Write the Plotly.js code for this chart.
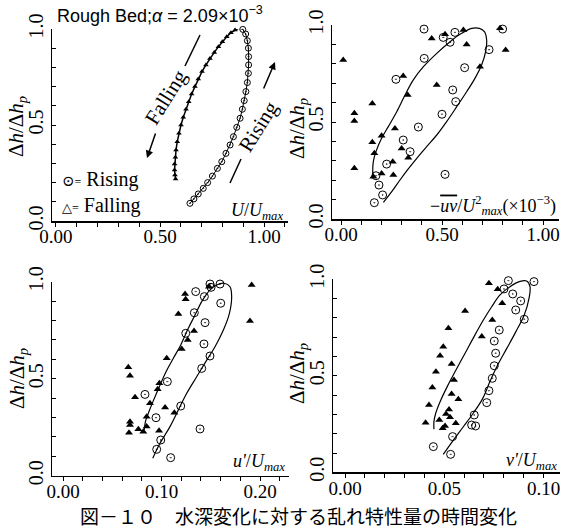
<!DOCTYPE html>
<html><head><meta charset="utf-8">
<script src="https://cdn.plot.ly/plotly-3.0.1.min.js"></script>
<style>body{margin:0;background:#fff}#chart{width:561px;height:529px}</style>
</head><body><div id="chart"></div>
<script>
// ---------- Panel 1: U/Umax ----------
const p1RiseX = [0.644,0.663,0.684,0.708,0.729,0.752,0.776,0.797,0.817,0.837,0.853,0.869,0.885,0.896,0.905,0.913,0.920,0.925,0.926,0.926,0.925,0.920,0.912,0.898,0.881];
const p1RiseY = [0.092,0.115,0.141,0.170,0.200,0.234,0.274,0.309,0.352,0.396,0.439,0.488,0.535,0.582,0.627,0.674,0.721,0.769,0.813,0.856,0.900,0.939,0.974,0.998,1.003];
const p1FallX = [0.877,0.861,0.841,0.821,0.800,0.781,0.761,0.740,0.721,0.702,0.684,0.668,0.652,0.638,0.625,0.612,0.601,0.591,0.583,0.577,0.574,0.570,0.570,0.572,0.575];
const p1FallY = [1.003,0.995,0.981,0.960,0.934,0.908,0.878,0.847,0.813,0.778,0.740,0.700,0.661,0.621,0.582,0.540,0.500,0.457,0.413,0.370,0.332,0.297,0.266,0.240,0.219];

// ---------- Panel 2: -uv/Umax^2 ----------
const p2RiseX = [0.411,0.506,0.564,0.540,0.800,0.733,0.412,0.612,0.272,0.553,0.568,0.500,0.383,0.308,0.342,0.226,0.515,0.173,0.188,0.206,0.165];
const p2RiseY = [0.979,0.936,0.962,0.911,0.979,0.873,0.828,0.780,0.720,0.665,0.605,0.540,0.474,0.407,0.347,0.283,0.230,0.223,0.175,0.124,0.084];
const p2FallX = [0.011,0.066,0.066,0.066,0.155,0.155,0.165,0.160,0.201,0.201,0.256,0.259,0.267,0.300,0.333,0.308,0.330,0.449,0.515,0.474,0.606,0.622,0.688,0.787,0.815];
const p2FallY = [0.820,0.545,0.505,0.261,0.596,0.395,0.339,0.218,0.429,0.235,0.295,0.227,0.467,0.364,0.316,0.737,0.639,0.931,0.952,0.691,0.974,0.900,0.785,0.983,0.871];
const p2FitX = [0.210,0.251,0.292,0.333,0.375,0.424,0.474,0.523,0.573,0.622,0.663,0.696,0.716,0.721,0.710,0.685,0.647,0.597,0.540,0.474,0.408,0.358,0.317,0.276,0.234,0.201,0.173,0.160,0.157,0.160];
const p2FitY = [0.086,0.141,0.201,0.258,0.313,0.373,0.433,0.502,0.579,0.656,0.725,0.794,0.863,0.923,0.966,0.983,0.983,0.957,0.914,0.854,0.785,0.717,0.639,0.553,0.476,0.416,0.347,0.296,0.244,0.213];

// ---------- Panel 3: u'/Umax ----------
const p3RiseX = [0.1492,0.1594,0.1503,0.1347,0.1435,0.1601,0.1333,0.1442,0.1246,0.1431,0.1492,0.1408,0.1059,0.1195,0.0832,0.0944,0.1391,0.0992,0.0951,0.1093];
const p3RiseY = [0.988,0.988,0.971,0.949,0.923,0.889,0.840,0.789,0.734,0.679,0.617,0.553,0.485,0.359,0.419,0.299,0.241,0.184,0.136,0.093];
const p3FallX = [0.1915,0.1898,0.1239,0.1245,0.1171,0.1482,0.1330,0.1266,0.1205,0.1053,0.0978,0.0961,0.0883,0.0849,0.0663,0.0680,0.0731,0.1036,0.1130,0.0680,0.0680,0.0670,0.0765,0.0815,0.0849,0.0975];
const p3FallY = [0.983,0.797,0.937,0.909,0.834,0.974,0.746,0.699,0.653,0.605,0.476,0.445,0.373,0.304,0.559,0.515,0.404,0.352,0.325,0.278,0.261,0.222,0.239,0.227,0.253,0.232];
const p3FitX = [0.0911,0.0985,0.1086,0.1171,0.1256,0.1357,0.1459,0.1543,0.1628,0.1689,0.1712,0.1695,0.1635,0.1560,0.1486,0.1408,0.1340,0.1272,0.1195,0.1120,0.1046,0.0978,0.0917,0.0866,0.0836,0.0825];
const p3FitY = [0.090,0.167,0.253,0.339,0.425,0.510,0.596,0.665,0.751,0.837,0.923,0.974,0.992,0.983,0.954,0.897,0.828,0.760,0.674,0.605,0.536,0.459,0.387,0.322,0.278,0.236];

// ---------- Panel 4: v'/Umax ----------
const p4RiseX = [0.0823,0.0952,0.0801,0.0845,0.0885,0.0860,0.0903,0.0777,0.0752,0.0759,0.0752,0.0742,0.0725,0.0714,0.0651,0.0658,0.0638,0.0542,0.0445,0.0532];
const p4RiseY = [0.993,0.988,0.950,0.924,0.888,0.841,0.793,0.737,0.680,0.617,0.552,0.487,0.423,0.361,0.297,0.240,0.245,0.185,0.133,0.093];
const p4FallX = [0.0725,0.0769,0.0792,0.0605,0.0742,0.0689,0.0521,0.0495,0.0479,0.0537,0.0458,0.0549,0.0440,0.0537,0.0571,0.0423,0.0524,0.0509,0.0529,0.0406,0.0475,0.0558,0.0504,0.0492];
const p4FallY = [0.979,0.948,0.876,0.836,0.789,0.703,0.746,0.651,0.604,0.561,0.521,0.478,0.440,0.406,0.378,0.349,0.326,0.302,0.285,0.257,0.271,0.254,0.240,0.228];
const p4FitX = [0.0495,0.0546,0.0596,0.0646,0.0694,0.0730,0.0769,0.0815,0.0861,0.0903,0.0927,0.0932,0.0915,0.0878,0.0831,0.0781,0.0739,0.0697,0.0650,0.0605,0.0559,0.0515,0.0479,0.0457,0.0448,0.0448];
const p4FitY = [0.093,0.167,0.236,0.306,0.383,0.470,0.556,0.642,0.729,0.815,0.901,0.962,0.991,0.988,0.962,0.919,0.858,0.789,0.703,0.617,0.530,0.444,0.366,0.306,0.262,0.223];

// ---------- Ticks ----------
const yTickVals = [0,0.1,0.2,0.3,0.4,0.5,0.6,0.7,0.8,0.9,1.0];
const yTickText = ['0.0','','','','','0.5','','','','','1.0'];
const x1TickVals = [0,0.1,0.2,0.3,0.4,0.5,0.6,0.7,0.8,0.9,1.0,1.1];
const x1TickText = ['0.00','','','','','0.50','','','','','1.00',''];
const x3TickVals = [0,0.02,0.04,0.06,0.08,0.10,0.12,0.14,0.16,0.18,0.20,0.22];
const x3TickText = ['0.00','','','','','0.10','','','','','0.20',''];
const x4TickVals = [0,0.01,0.02,0.03,0.04,0.05,0.06,0.07,0.08,0.09,0.10];
const x4TickText = ['0.00','','','','','0.05','','','','','0.10'];

const W = 561, H = 529;
const px = v => v / W;
const py = v => 1 - v / H;
const serif = 'Liberation Serif, DejaVu Serif, serif';
const sans = 'Liberation Sans, Arial, sans-serif';

function xAxis(l, r, range, tv, tt, anchor) {
  return {domain:[px(l), px(r)], range:range, anchor:anchor, tickmode:'array', tickvals:tv, ticktext:tt,
    ticks:'outside', ticklen:4, tickwidth:1, tickcolor:'#000', showline:true, linecolor:'#000', linewidth:1.5,
    ticklabelstandoff:-6,
    showgrid:false, zeroline:false, tickfont:{family:serif, size:19, color:'#000'}, fixedrange:true};
}
function yAxis(top, bottom, anchor) {
  return {domain:[py(bottom), py(top)], range:[0,1.0], anchor:anchor, tickmode:'array', tickvals:yTickVals, ticktext:yTickText,
    ticks:'inside', ticklen:4, tickwidth:1, tickcolor:'#000', tickangle:-90, showline:true, linecolor:'#000', linewidth:1.5,
    showgrid:false, zeroline:false, tickfont:{family:serif, size:20, color:'#000'}, fixedrange:true};
}

const circ = s => ({symbol:'circle-open-dot', size:s, color:'#000', line:{color:'#000', width:1}});
const tri = s => ({symbol:'triangle-up', size:s, color:'#000', line:{width:0}});

const traces = [
  {x:p1RiseX, y:p1RiseY, xaxis:'x', yaxis:'y', mode:'lines+markers', line:{color:'#000', width:1}, marker:circ(6), cliponaxis:false},
  {x:p1FallX, y:p1FallY, xaxis:'x', yaxis:'y', mode:'lines+markers', line:{color:'#000', width:1.5}, marker:tri(5), cliponaxis:false},

  {x:p2FitX, y:p2FitY, xaxis:'x2', yaxis:'y2', mode:'lines', line:{color:'#000', width:1.2, shape:'spline'}, cliponaxis:false},
  {x:p2RiseX, y:p2RiseY, xaxis:'x2', yaxis:'y2', mode:'markers', marker:circ(8), cliponaxis:false},
  {x:p2FallX, y:p2FallY, xaxis:'x2', yaxis:'y2', mode:'markers', marker:tri(7), cliponaxis:false},

  {x:p3FitX, y:p3FitY, xaxis:'x3', yaxis:'y3', mode:'lines', line:{color:'#000', width:1.2, shape:'spline'}, cliponaxis:false},
  {x:p3RiseX, y:p3RiseY, xaxis:'x3', yaxis:'y3', mode:'markers', marker:circ(8), cliponaxis:false},
  {x:p3FallX, y:p3FallY, xaxis:'x3', yaxis:'y3', mode:'markers', marker:tri(7), cliponaxis:false},

  {x:p4FitX, y:p4FitY, xaxis:'x4', yaxis:'y4', mode:'lines', line:{color:'#000', width:1.2, shape:'spline'}, cliponaxis:false},
  {x:p4RiseX, y:p4RiseY, xaxis:'x4', yaxis:'y4', mode:'markers', marker:circ(8), cliponaxis:false},
  {x:p4FallX, y:p4FallY, xaxis:'x4', yaxis:'y4', mode:'markers', marker:tri(7), cliponaxis:false}
];

const yTitle = '\u0394<i>h</i>/\u0394<i>h</i><sub><i>p</i></sub>';
function ann(x, y, text, opts) {
  return Object.assign({xref:'paper', yref:'paper', x:px(x), y:py(y), text:text, showarrow:false,
    xanchor:'center', yanchor:'middle',
    font:{family:serif, size:20, color:'#000'}}, opts || {});
}

const annotations = [
  ann(55, 14, 'Rough Bed;<i>\u03b1</i> = 2.09\u00d710<sup>\u22123</sup>', {xanchor:'left', font:{family:sans, size:18, color:'#000'}}),
  ann(17, 127, yTitle, {textangle:-90, font:{family:serif, size:21, color:'#000'}}),
  ann(298, 129, yTitle, {textangle:-90, font:{family:serif, size:21, color:'#000'}}),
  ann(18, 379, yTitle, {textangle:-90, font:{family:serif, size:21, color:'#000'}}),
  ann(298, 374, yTitle, {textangle:-90, font:{family:serif, size:21, color:'#000'}}),
  ann(285, 211, '<i>U</i>/<i>U</i><sub><i>max</i></sub>', {xanchor:'right', font:{family:serif, size:18, color:'#000'}}),
  ann(558, 206, '\u2212<span style="text-decoration:overline"><i>uv</i></span>/<i>U</i><sup>2</sup><sub><i>max</i></sub>(\u00d710<sup>\u22123</sup>)', {xanchor:'right', font:{family:serif, size:18, color:'#000'}}),
  ann(287, 462, "<i>u'</i>/<i>U</i><sub><i>max</i></sub>", {xanchor:'right', font:{family:serif, size:18, color:'#000'}}),
  ann(559, 461, "<i>v'</i>/<i>U</i><sub><i>max</i></sub>", {xanchor:'right', font:{family:serif, size:18, color:'#000'}}),
  ann(60, 180, '<span style="font-size:15px">\u2299</span><span style="font-size:12px">=</span> Rising', {xanchor:'left'}),
  ann(60, 206, '<span style="font-size:13px">\u25b3</span><span style="font-size:12px">=</span> Falling', {xanchor:'left'}),
  ann(166, 97, 'Falling', {textangle:-58, font:{family:serif, size:21, color:'#000'}}),
  ann(258, 127, 'Rising', {textangle:-58, font:{family:serif, size:21, color:'#000'}}),
  // arrows
  {xref:'paper', yref:'paper', x:px(147), y:py(158), ax:9, ay:-26, text:'', showarrow:true, arrowhead:2, arrowsize:1, arrowwidth:1.5, arrowcolor:'#000'},
  {xref:'paper', yref:'paper', x:px(275), y:py(62), ax:-12, ay:28, text:'', showarrow:true, arrowhead:2, arrowsize:1, arrowwidth:1.5, arrowcolor:'#000'},
  ann(298, 515.5, '図－１０　水深変化に対する乱れ特性量の時間変化', {font:{family:'Noto Sans CJK JP, sans-serif', size:19, color:'#000'}})
];

const shapes = [
  {type:'line', xref:'paper', yref:'paper', x0:px(200), y0:py(35), x1:px(185), y1:py(66), line:{color:'#000', width:1.5}},
  {type:'line', xref:'paper', yref:'paper', x0:px(230), y0:py(183), x1:px(241), y1:py(159), line:{color:'#000', width:1.5}}
];

const layout = {
  width:W, height:H, margin:{l:0, r:0, t:0, b:0}, paper_bgcolor:'#fff', plot_bgcolor:'rgba(0,0,0,0)',
  showlegend:false,
  xaxis: xAxis(52, 288, [-0.0192, 1.1154], x1TickVals, x1TickText, 'y'),
  yaxis: yAxis(29, 221, 'x'),
  xaxis2: xAxis(332, 559, [-0.0446, 1.0792], x1TickVals, x1TickText, 'y2'),
  yaxis2: yAxis(25, 219, 'x2'),
  xaxis3: xAxis(52, 289, [-0.01117, 0.2294], x3TickVals, x3TickText, 'y3'),
  yaxis3: yAxis(281.7, 475.7, 'x3'),
  xaxis4: xAxis(333, 560, [-0.00605, 0.10831], x4TickVals, x4TickText, 'y4'),
  yaxis4: yAxis(279.3, 472.3, 'x4'),
  annotations:annotations, shapes:shapes
};

Plotly.newPlot('chart', traces, layout, {staticPlot:true, displayModeBar:false});
</script>
</body></html>
